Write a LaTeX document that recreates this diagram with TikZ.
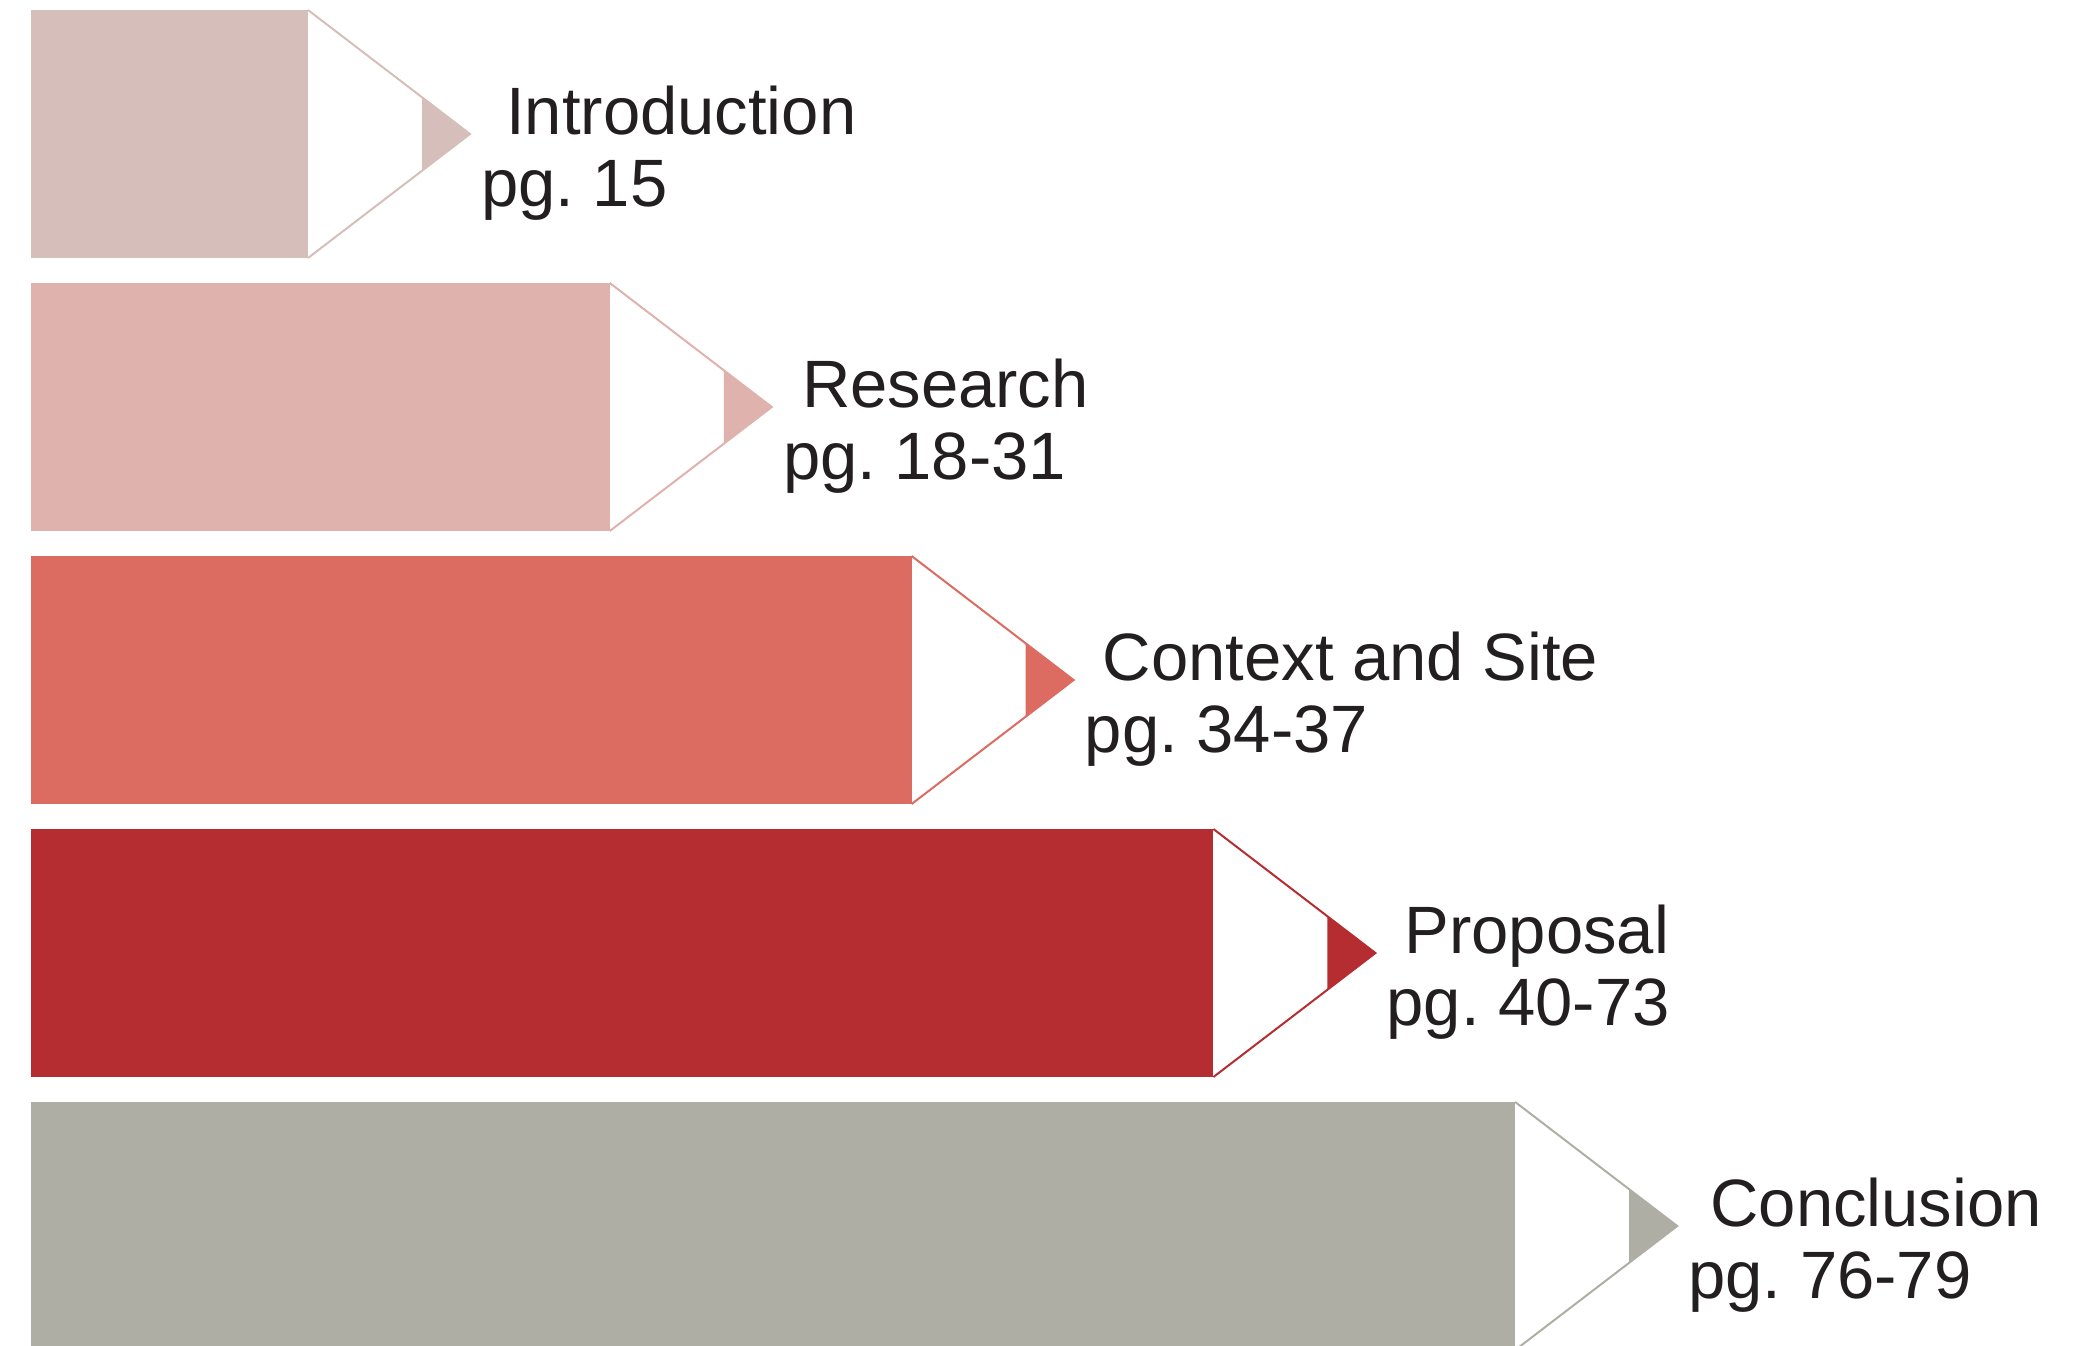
\documentclass[tikz,border=0pt]{standalone}
\usepackage{fontspec}
\setmainfont{Liberation Sans}
\frenchspacing
\definecolor{barA}{RGB}{214,190,186}
\definecolor{barB}{RGB}{224,178,173}
\definecolor{barC}{RGB}{220,107,97}
\definecolor{barD}{RGB}{181,45,49}
\definecolor{barE}{RGB}{174,174,165}
\definecolor{ink}{RGB}{35,31,32}
\begin{document}
\begin{tikzpicture}[x=1pt,y=-1pt,
  caption/.style={font=\fontsize{67}{67}\selectfont, text=ink, inner sep=0pt, anchor=base west},
  pencil edge/.style={line width=2pt, line join=miter}]
\useasboundingbox (0,0) rectangle (2090,1345);
\clip (0,0) rectangle (2090,1345);
% one pencil per chapter: body, sharpened wood, coloured lead
\foreach \i/\col/\ttl/\pg/\dx in {
    0/barA/Introduction/pg. 15/36,
    1/barB/Research/pg. 18-31/30,
    2/barC/Context and Site/pg. 34-37/29,
    3/barD/Proposal/pg. 40-73/29,
    4/barE/Conclusion/pg. 76-79/33}{
  \pgfmathsetmacro{\yt}{10+273*\i}
  \pgfmathsetmacro{\yb}{\yt+248}
  \pgfmathsetmacro{\ym}{\yt+124}
  \pgfmathsetmacro{\xr}{308+301.8*\i}
  \pgfmathsetmacro{\xtip}{\xr+162}
  \pgfmathsetmacro{\xin}{\xr+114}
  \pgfmathsetmacro{\yla}{\ym-37}
  \pgfmathsetmacro{\ylb}{\ym+37}
  \fill[\col] (30.5,\yt) rectangle (\xr,\yb);
  \draw[\col, pencil edge] (\xr,\yt) -- (\xtip,\ym) -- (\xr,\yb);
  \fill[\col] (\xin,\yla) -- (\xtip,\ym) -- (\xin,\ylb) -- cycle;
  \node[caption] (title\i) at (\xtip+\dx,\ym) {\ttl};
  \node[caption] (page\i) at (\xtip+11,\ym+72) {\pg};
}
\end{tikzpicture}
\end{document}
